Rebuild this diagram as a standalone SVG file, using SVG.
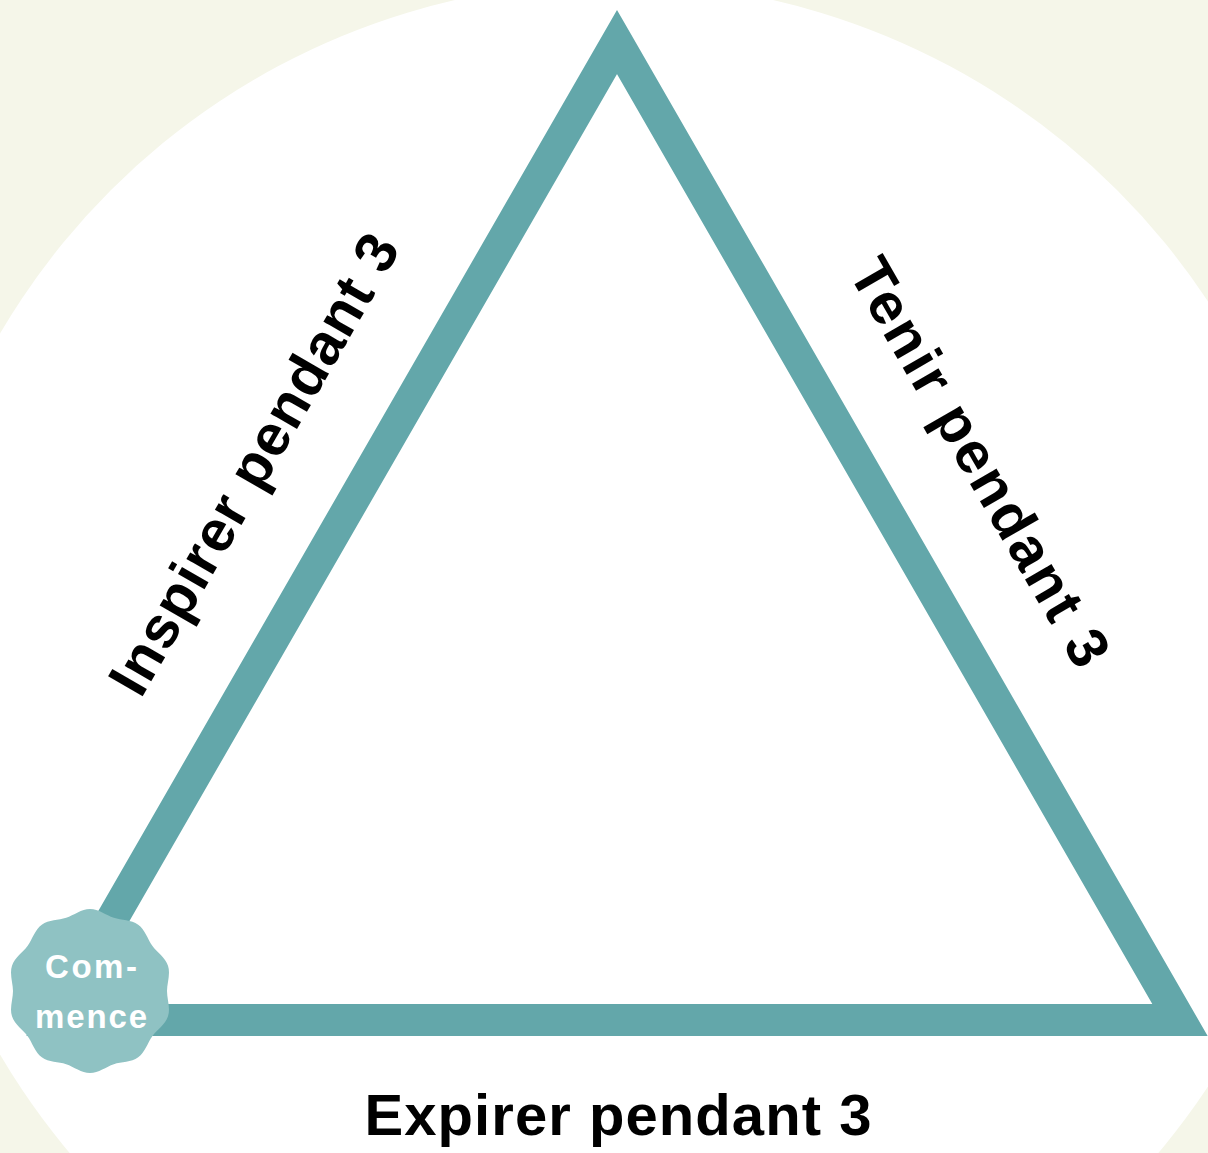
<svg xmlns="http://www.w3.org/2000/svg" width="1208" height="1153" viewBox="0 0 1208 1153">
  <style>
    .label { font-family: "Liberation Sans", Arial, sans-serif; font-weight: bold; font-size: 58px; fill: #000; }
    .badge-text { font-family: "Liberation Sans", Arial, sans-serif; font-weight: bold; font-size: 33px; fill: #fff; text-anchor: middle; }
    .edge { fill: none; stroke: #63a7aa; stroke-width: 32; stroke-linejoin: miter; stroke-miterlimit: 4; }
  </style>
  <rect id="background" x="0" y="0" width="1208" height="1153" fill="#f5f6e9"/>
  <circle id="backdrop-circle" cx="614" cy="694" r="712" fill="#ffffff"/>
  <g id="connectors">
    <polygon class="edge" points="617,42 1180,1020 54,1020"/>
  </g>
  <g id="label-inspirer">
    <text class="label" text-anchor="middle" transform="translate(271,474) rotate(-60)" x="0" y="0" textLength="521">Inspirer pendant 3</text>
  </g>
  <g id="label-tenir">
    <text class="label" text-anchor="middle" transform="translate(963,472) rotate(60)" x="0" y="0" textLength="461">Tenir pendant 3</text>
  </g>
  <g id="label-expirer">
    <text class="label" text-anchor="middle" x="618" y="1135" textLength="507">Expirer pendant 3</text>
  </g>
  <g id="start-badge">
    <path fill="#8fc2c3" d="M90,909 C98.6,909 106.1,915.3 113.8,917.8 S131.2,919.6 138.2,924.7 S147.6,939.2 152.3,945.7 S165.3,957.5 168,965.7 S167,982.9 167,991 S170.7,1008.1 168,1016.3 S157,1029.8 152.3,1036.3 S145.2,1052.2 138.2,1057.3 S121.5,1061.7 113.8,1064.2 S98.6,1073 90,1073 S73.9,1066.7 66.2,1064.2 S48.8,1062.4 41.8,1057.3 S32.4,1042.8 27.7,1036.3 S14.7,1024.5 12,1016.3 S13,999.1 13,991 S9.3,973.9 12,965.7 S23,952.2 27.7,945.7 S34.8,929.8 41.8,924.7 S58.5,920.3 66.2,917.8 S81.4,909 90,909 Z"/>
    <text class="badge-text" x="91" y="978" textLength="92">Com-</text>
    <text class="badge-text" x="91" y="1028" textLength="112">mence</text>
  </g>
</svg>
